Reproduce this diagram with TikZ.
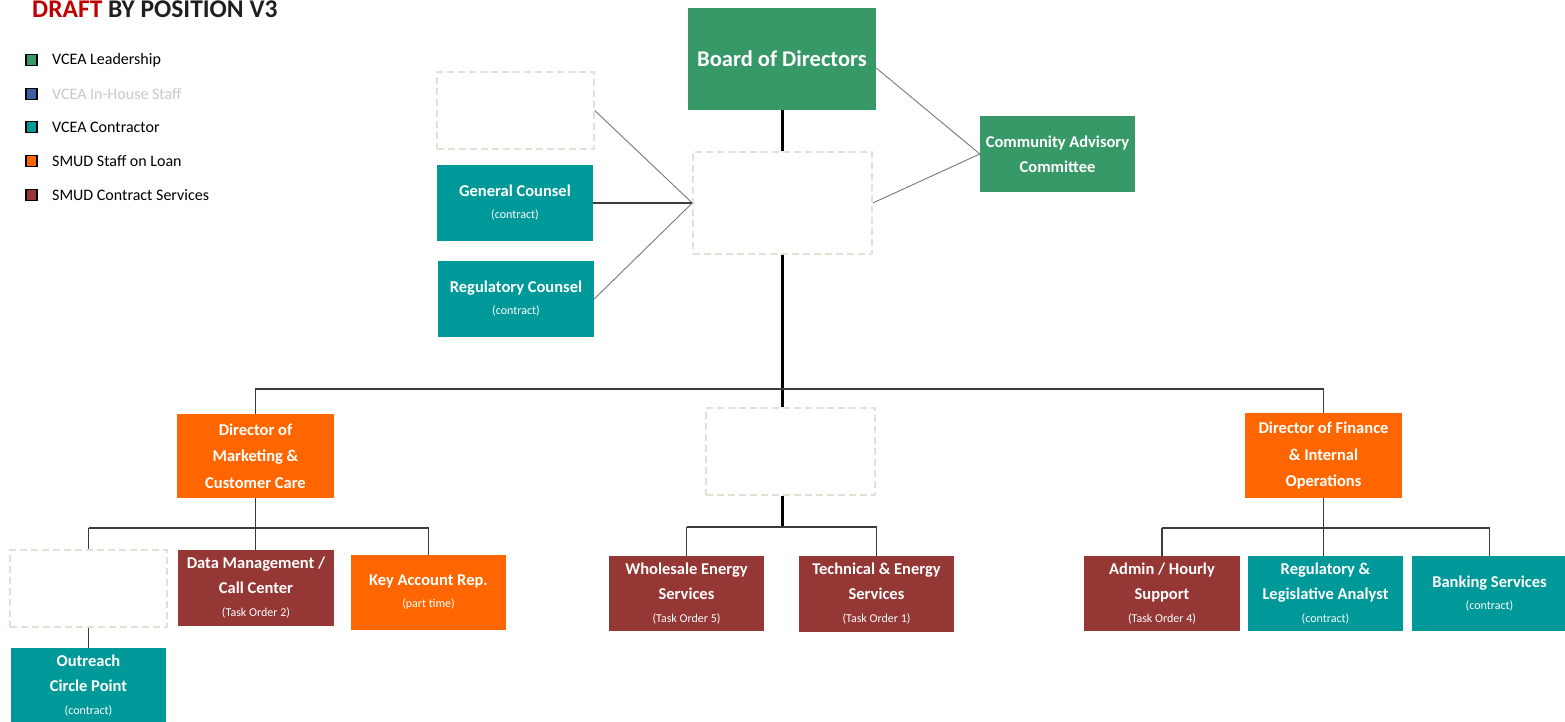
\documentclass[tikz,border=0pt]{standalone}
\usepackage{fontspec}
\setmainfont{Carlito}
\definecolor{leadgreen}{RGB}{55,153,103}
\definecolor{staffblue}{RGB}{58,95,160}
\definecolor{contrteal}{RGB}{0,153,153}
\definecolor{loanorange}{RGB}{255,102,0}
\definecolor{svcmaroon}{RGB}{149,55,53}
\definecolor{draftred}{RGB}{192,0,0}
\definecolor{vacantline}{RGB}{228,224,212}
\definecolor{tiegray}{RGB}{60,60,60}
\definecolor{linkgray}{RGB}{120,120,120}
\definecolor{fadedtext}{RGB}{200,200,200}
\newcommand\subnote[1]{{\fontsize{12}{12}\selectfont\mdseries #1}}
\begin{document}
\begin{tikzpicture}[x=1pt,y=-1pt,
  orgbox/.style={rectangle, inner sep=0pt, text=white, align=center,
    font=\bfseries\fontsize{16.5}{25}\selectfont},
  leadbox/.style={orgbox, fill=leadgreen},
  contrbox/.style={orgbox, fill=contrteal},
  loanbox/.style={orgbox, fill=loanorange},
  svcbox/.style={orgbox, fill=svcmaroon},
  vacant/.style={rectangle, inner sep=0pt, fill=white, draw=vacantline,
    line width=1.5pt, dash pattern=on 7pt off 4pt},
  spine/.style={line width=3pt, black},
  tie/.style={line width=1.8pt, tiegray},
  thintie/.style={line width=1.2pt, tiegray},
  link/.style={line width=0.9pt, linkgray},
  legsq/.style={rectangle, draw=black, line width=1.4pt, minimum size=11pt, inner sep=0pt},
  legtxt/.style={anchor=west, inner sep=0pt, font=\fontsize{16}{18}\selectfont}
]
\useasboundingbox (0,0) rectangle (1565,721);
\clip (0,0) rectangle (1565,721);
\fill[white] (0,0) rectangle (1565,721);

% title and legend
\node[anchor=base west, inner sep=0pt, font=\bfseries\fontsize{25.5}{26}\selectfont, text=black!88]
  (title) at (32,17.5) {\textcolor{draftred}{DRAFT} BY POSITION V3};
\node[legsq, fill=leadgreen]  (sq1) at (31.5,60) {};
\node[legsq, fill=staffblue]  (sq2) at (31.5,94) {};
\node[legsq, fill=contrteal]  (sq3) at (31.5,127) {};
\node[legsq, fill=loanorange] (sq4) at (31.5,161) {};
\node[legsq, fill=svcmaroon]  (sq5) at (31.5,195) {};
\node[legtxt] (lt1) at (52,60) {VCEA Leadership};
\node[legtxt, text=fadedtext] (lt2) at (52,94) {VCEA In-House Staff};
\node[legtxt] (lt3) at (52,127) {VCEA Contractor};
\node[legtxt] (lt4) at (52,161) {SMUD Staff on Loan};
\node[legtxt] (lt5) at (52,195) {SMUD Contract Services};

% board level
\node[leadbox, minimum width=188pt, minimum height=102pt, font=\bfseries\fontsize{22.5}{26}\selectfont]
  (board) at (782,59) {Board of Directors};
\node[vacant, minimum width=179pt, minimum height=102pt] (vmid) at (782.5,203) {};
\node[vacant, minimum width=157pt, minimum height=77pt] (vtop) at (515.5,110.5) {};
\node[contrbox, minimum width=156pt, minimum height=76pt] (gc) at (515,203)
  {General Counsel\\[-3pt]\subnote{(contract)}};
\node[contrbox, minimum width=156pt, minimum height=76pt] (rc) at (516,299)
  {Regulatory Counsel\\[-3pt]\subnote{(contract)}};
\node[leadbox, minimum width=155pt, minimum height=76pt] (cac) at (1057.5,154)
  {Community Advisory\\Committee};

% directors level
\node[loanbox, minimum width=157pt, minimum height=84pt, font=\bfseries\fontsize{16.5}{26.5}\selectfont]
  (mkt) at (255.5,456) {Director of\\Marketing \&\\Customer Care};
\node[vacant, minimum width=169pt, minimum height=87pt] (vops) at (790.5,451.5) {};
\node[loanbox, minimum width=157pt, minimum height=85pt, font=\bfseries\fontsize{16.5}{26.5}\selectfont]
  (fin) at (1323.5,455.5) {Director of Finance\\\& Internal\\Operations};

% marketing branch
\node[vacant, minimum width=157pt, minimum height=77pt] (vout) at (88.5,588.5) {};
\node[svcbox, minimum width=156pt, minimum height=76pt] (data) at (256,588)
  {Data Management /\\Call Center\\[-2pt]\subnote{(Task Order 2)}};
\node[loanbox, minimum width=155pt, minimum height=75pt] (kar) at (428.5,592.5)
  {Key Account Rep.\\[-3pt]\subnote{(part time)}};
\node[contrbox, minimum width=155pt, minimum height=76pt] (outr) at (88.5,686)
  {Outreach\\Circle Point\\[-2pt]\subnote{(contract)}};

% operations branch
\node[svcbox, minimum width=155pt, minimum height=75pt] (whs) at (686.5,593.5)
  {Wholesale Energy\\Services\\[-2pt]\subnote{(Task Order 5)}};
\node[svcbox, minimum width=155pt, minimum height=76pt] (tech) at (876.5,594)
  {Technical \& Energy\\Services\\[-2pt]\subnote{(Task Order 1)}};

% finance branch
\node[svcbox, minimum width=156pt, minimum height=75pt] (adm) at (1162,593.5)
  {Admin / Hourly\\Support\\[-2pt]\subnote{(Task Order 4)}};
\node[contrbox, minimum width=155pt, minimum height=75pt] (rla) at (1325.5,593.5)
  {Regulatory \&\\Legislative Analyst\\[-2pt]\subnote{(contract)}};
\node[contrbox, minimum width=155pt, minimum height=75pt] (bank) at (1489.5,593.5)
  {Banking Services\\[-3pt]\subnote{(contract)}};

% bus rows
\coordinate (bus)  at (782,389);
\coordinate (mbus) at (255.5,528);
\coordinate (obus) at (782,527);
\coordinate (fbus) at (1323.5,528);

% connectors: board spine and director bus
\draw[spine] (board.south) -- (board.south |- vmid.north);
\draw[spine] (board.south |- vmid.south) -- (board.south |- vops.north);
\draw[tie] (mkt.north) -- (mkt.north |- bus) -- (fin.north |- bus) -- (fin.north);
% advisory links
\draw[link] (vtop.east) -- (vmid.west);
\draw[tie] (gc.east) -- (vmid.west);
\draw[link] (rc.east) -- (vmid.west);
\draw[link] ([yshift=-9pt]board.east) -- (cac.west);
\draw[link] (vmid.east) -- (cac.west);
% marketing tree
\draw[tie] (mkt.south) -- (mbus);
\draw[tie] (vout.north |- mbus) -- (kar.north |- mbus);
\draw[tie] (vout.north |- mbus) -- (vout.north);
\draw[tie] (mbus) -- (mkt.south |- data.north);
\draw[tie] (kar.north |- mbus) -- (kar.north);
\draw[tie] (vout.south) -- (outr.north);
% operations tree
\draw[spine] (board.south |- vops.south) -- (obus);
\draw[thintie] (whs.north |- obus) -- (tech.north |- obus);
\draw[thintie] (whs.north |- obus) -- (whs.north);
\draw[thintie] (tech.north |- obus) -- (tech.north);
% finance tree
\draw[thintie] (fin.south) -- (fbus);
\draw[thintie] (adm.north |- fbus) -- (bank.north |- fbus);
\draw[tie] (adm.north |- fbus) -- (adm.north);
\draw[thintie] (fbus) -- (fin.south |- rla.north);
\draw[thintie] (bank.north |- fbus) -- (bank.north);
\end{tikzpicture}
\end{document}
